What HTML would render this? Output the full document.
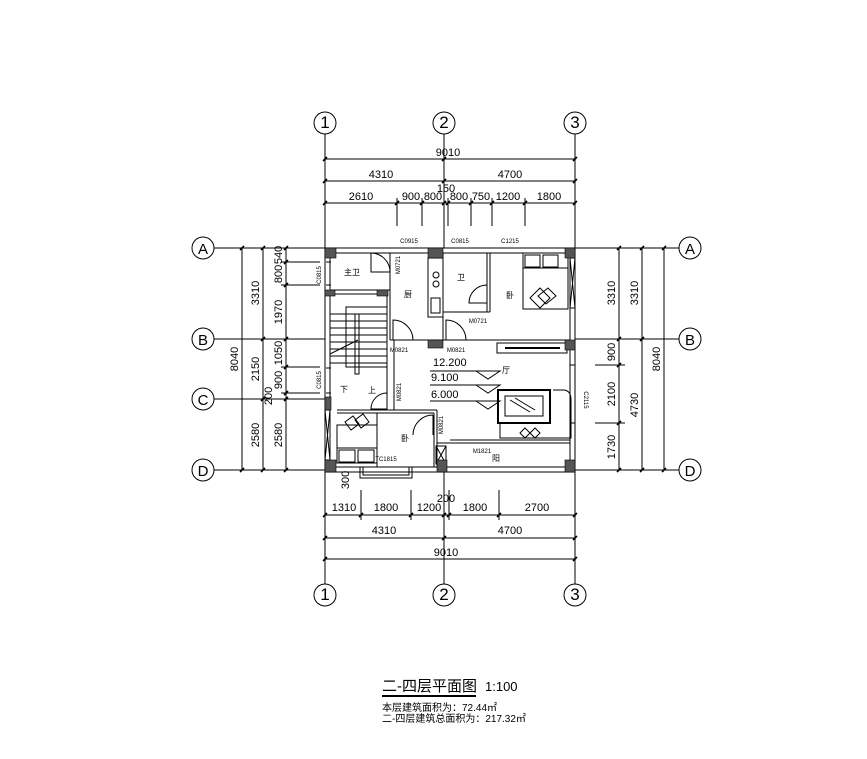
<!DOCTYPE html>
<html><head><meta charset="utf-8"><style>
html,body{margin:0;padding:0;background:#fff;}
svg{display:block;}
text{font-family:"Liberation Sans","Noto Sans CJK SC",sans-serif;fill:#000;}
</style></head><body>
<svg width="867" height="759" viewBox="0 0 867 759" xmlns="http://www.w3.org/2000/svg">
<rect width="867" height="759" fill="#fff"/>
<g stroke="#000" stroke-width="1" fill="none">
<circle cx="325" cy="123" r="11"/><circle cx="444" cy="123" r="11"/><circle cx="575" cy="123" r="11"/>
<circle cx="325" cy="595" r="11"/><circle cx="444" cy="595" r="11"/><circle cx="575" cy="595" r="11"/>
<circle cx="203" cy="248" r="11"/><circle cx="203" cy="339" r="11"/><circle cx="203" cy="399" r="11"/><circle cx="203" cy="470" r="11"/>
<circle cx="690" cy="248" r="11"/><circle cx="690" cy="339" r="11"/><circle cx="690" cy="470" r="11"/>
<line x1="325" y1="134" x2="325" y2="248"/><line x1="444" y1="134" x2="444" y2="248"/><line x1="575" y1="134" x2="575" y2="248"/>
<line x1="325" y1="472" x2="325" y2="584"/><line x1="444" y1="472" x2="444" y2="584"/><line x1="575" y1="472" x2="575" y2="584"/>
<line x1="214" y1="248" x2="325" y2="248"/><line x1="214" y1="339" x2="325" y2="339"/><line x1="214" y1="399" x2="325" y2="399"/><line x1="214" y1="470" x2="325" y2="470"/>
<line x1="575" y1="248" x2="679" y2="248"/><line x1="575" y1="339" x2="679" y2="339"/><line x1="575" y1="470" x2="679" y2="470"/>
<line x1="325" y1="159" x2="575" y2="159"/><line x1="325" y1="181" x2="575" y2="181"/><line x1="325" y1="203" x2="575" y2="203"/>
<line x1="397" y1="198" x2="397" y2="226"/><line x1="422" y1="198" x2="422" y2="226"/><line x1="448" y1="198" x2="448" y2="226"/>
<line x1="471" y1="198" x2="471" y2="226"/><line x1="492" y1="198" x2="492" y2="226"/><line x1="525" y1="198" x2="525" y2="226"/>
<line x1="325" y1="515" x2="575" y2="515"/><line x1="325" y1="538" x2="575" y2="538"/><line x1="325" y1="559" x2="575" y2="559"/>
<line x1="361" y1="490" x2="361" y2="520"/><line x1="411" y1="490" x2="411" y2="520"/><line x1="449" y1="490" x2="449" y2="520"/><line x1="499" y1="490" x2="499" y2="520"/>
<line x1="242" y1="248" x2="242" y2="470"/><line x1="263" y1="248" x2="263" y2="470"/><line x1="286" y1="248" x2="286" y2="470"/>
<line x1="281" y1="262" x2="320" y2="262"/><line x1="281" y1="285" x2="320" y2="285"/><line x1="281" y1="367" x2="320" y2="367"/><line x1="281" y1="393" x2="320" y2="393"/>
<line x1="619" y1="248" x2="619" y2="470"/><line x1="642" y1="248" x2="642" y2="470"/><line x1="664" y1="248" x2="664" y2="470"/>
<line x1="595" y1="365" x2="625" y2="365"/><line x1="595" y1="423" x2="625" y2="423"/>
</g>
<g stroke="#000" stroke-width="1.6">
<path d="M323 161l4-4M442 161l4-4M573 161l4-4M323 183l4-4M442 183l4-4M573 183l4-4M323 205l4-4M395 205l4-4M420 205l4-4M442 205l4-4M446 205l4-4M469 205l4-4M490 205l4-4M523 205l4-4M573 205l4-4"/>
<path d="M323 517l4-4M359 517l4-4M409 517l4-4M442 517l4-4M447 517l4-4M497 517l4-4M573 517l4-4M323 540l4-4M442 540l4-4M573 540l4-4M323 561l4-4M573 561l4-4"/>
<path d="M240 250l4-4M240 472l4-4M261 250l4-4M261 341l4-4M261 401l4-4M261 472l4-4M284 250l4-4M284 264l4-4M284 287l4-4M284 341l4-4M284 369l4-4M284 395l4-4M284 401l4-4M284 472l4-4"/>
<path d="M617 250l4-4M617 341l4-4M617 367l4-4M617 425l4-4M617 472l4-4M640 250l4-4M640 341l4-4M640 472l4-4M662 250l4-4M662 472l4-4"/>
</g>
<g font-size="11" text-anchor="middle">
<text x="325" y="128" font-size="17">1</text><text x="444" y="128" font-size="17">2</text><text x="575" y="128" font-size="17">3</text>
<text x="325" y="600" font-size="17">1</text><text x="444" y="600" font-size="17">2</text><text x="575" y="600" font-size="17">3</text>
<text x="203" y="254" font-size="15" font-family="Liberation Serif">A</text><text x="203" y="345" font-size="15" font-family="Liberation Serif">B</text><text x="203" y="405" font-size="15" font-family="Liberation Serif">C</text><text x="203" y="476" font-size="15" font-family="Liberation Serif">D</text>
<text x="690" y="254" font-size="15" font-family="Liberation Serif">A</text><text x="690" y="345" font-size="15" font-family="Liberation Serif">B</text><text x="690" y="476" font-size="15" font-family="Liberation Serif">D</text>
<text x="448" y="156">9010</text><text x="381" y="178">4310</text><text x="510" y="178">4700</text>
<text x="446" y="192">150</text>
<text x="361" y="200">2610</text><text x="411" y="200">900</text><text x="433" y="200">800</text><text x="459" y="200">800</text><text x="481" y="200">750</text><text x="508" y="200">1200</text><text x="549" y="200">1800</text>
<text x="344" y="511">1310</text><text x="386" y="511">1800</text><text x="429" y="511">1200</text><text x="446" y="502">200</text><text x="475" y="511">1800</text><text x="537" y="511">2700</text>
<text x="384" y="534">4310</text><text x="510" y="534">4700</text><text x="446" y="556">9010</text>
</g>
<g font-size="11" text-anchor="middle">
<text transform="translate(238,359) rotate(-90)">8040</text>
<text transform="translate(259,293) rotate(-90)">3310</text>
<text transform="translate(259,369) rotate(-90)">2150</text>
<text transform="translate(259,435) rotate(-90)">2580</text>
<text transform="translate(282,255) rotate(-90)">540</text>
<text transform="translate(282,274) rotate(-90)">800</text>
<text transform="translate(282,312) rotate(-90)">1970</text>
<text transform="translate(282,353) rotate(-90)">1050</text>
<text transform="translate(282,380) rotate(-90)">900</text>
<text transform="translate(272,396) rotate(-90)">200</text>
<text transform="translate(282,435) rotate(-90)">2580</text>
<text transform="translate(615,293) rotate(-90)">3310</text>
<text transform="translate(638,293) rotate(-90)">3310</text>
<text transform="translate(615,352) rotate(-90)">900</text>
<text transform="translate(615,394) rotate(-90)">2100</text>
<text transform="translate(638,405) rotate(-90)">4730</text>
<text transform="translate(615,447) rotate(-90)">1730</text>
<text transform="translate(660,359) rotate(-90)">8040</text>
<text transform="translate(349,480) rotate(-90)">300</text>
</g>
<g stroke="#000" stroke-width="1" fill="none">
<rect x="325" y="248" width="250" height="224"/>
<rect x="330" y="253" width="240" height="214"/>
<line x1="390" y1="253" x2="390" y2="340"/>
<line x1="443" y1="253" x2="443" y2="340"/>
<line x1="487" y1="253" x2="487" y2="312"/>
<line x1="490" y1="253" x2="490" y2="312"/>
<line x1="443" y1="312" x2="490" y2="312"/>
<line x1="330" y1="290" x2="390" y2="290"/>
<line x1="330" y1="294" x2="387" y2="294"/>
<line x1="387" y1="294" x2="387" y2="410"/>
<line x1="390" y1="340" x2="570" y2="340"/>
<line x1="394" y1="340" x2="394" y2="410"/>
<line x1="337" y1="410" x2="437" y2="410"/>
<line x1="337" y1="413" x2="434" y2="413"/>
<line x1="437" y1="410" x2="437" y2="467"/>
<line x1="434" y1="413" x2="434" y2="467"/>
<line x1="377" y1="413" x2="377" y2="467"/>
<line x1="437" y1="443" x2="570" y2="443"/>
<line x1="450" y1="440" x2="570" y2="440"/>
<rect x="436" y="446" width="10" height="18"/>
<path d="M436 446l10 18M446 446l-10 18"/>
<rect x="346" y="307" width="41" height="60"/>
<path d="M330 314h57M330 321h57M330 328h57M330 335h57M330 342h57M330 349h57M330 356h57M330 363h57"/>
<rect x="355" y="314" width="4" height="60"/>
<path d="M330 354l28-14"/>
<rect x="428" y="258" width="15" height="59"/>
<circle cx="436" cy="275" r="3"/><circle cx="436" cy="284" r="3"/><rect x="431" y="298" width="9" height="15"/>
<rect x="523" y="253" width="45" height="56"/>
<rect x="525" y="255" width="15" height="12"/><rect x="543" y="255" width="15" height="12"/>
<path d="M523 268h45M530 298l10-10l10 10l-10 10zM538 296l10-8l8 8l-10 8z"/>
<rect x="337" y="425" width="40" height="38"/>
<rect x="339" y="450" width="16" height="12"/><rect x="358" y="450" width="16" height="12"/>
<path d="M337 448h40M355 420l8-6l6 8l-8 6zM345 422l8-6l6 8l-8 6z"/>
<rect x="497" y="343" width="70" height="10"/>
<line x1="505" y1="348" x2="560" y2="348" stroke-width="2"/>
<rect x="498" y="390" width="52" height="33" stroke-width="2"/>
<rect x="505" y="396" width="38" height="20"/>
<path d="M510 400l20 12M515 398l20 12"/>
<path d="M553 390h10q8 0 8 10v38h-71v-15"/>
<path d="M525 428l5 5l-5 5l-5-5zM535 428l5 5l-5 5l-5-5z"/>
<path d="M360 467v11h52v-11M363 467v8h46v-8"/>
<path d="M371 253a19 19 0 0 1 19 19h-19z"/>
<path d="M393 320a20 20 0 0 1 20 20h-20z"/>
<path d="M446 320a20 20 0 0 1 20 20h-20z"/>
<path d="M487 285a18 18 0 0 0 -18 18h18z"/>
<path d="M387 393a16 16 0 0 0 -16 16h16z"/>
<path d="M433 415a20 20 0 0 0 -20 20"/><line x1="433" y1="415" x2="433" y2="435"/>
<path d="M331 262h-5M331 285h-5M331 368h-5M331 393h-5M570 365h5M570 423h5"/>
<rect x="325" y="410" width="5" height="50"/><path d="M325 410l5 50M330 410l-5 50"/>
<rect x="570" y="258" width="5" height="50"/><path d="M570 258l5 50M575 258l-5 50"/>
<path d="M430 371h70l-12 8l-12-8M430 385h70l-12 8l-12-8M430 401h70l-12 8l-12-8"/>
</g>
<g fill="#555" stroke="#000" stroke-width="0.6">
<rect x="325" y="248" width="11" height="10"/><rect x="428" y="248" width="15" height="10"/><rect x="565" y="248" width="10" height="10"/>
<rect x="325" y="290" width="10" height="6"/><rect x="377" y="290" width="11" height="6"/>
<rect x="428" y="340" width="15" height="8"/><rect x="565" y="340" width="10" height="10"/>
<rect x="325" y="397" width="6" height="13"/>
<rect x="325" y="460" width="11" height="12"/><rect x="437" y="460" width="10" height="12"/><rect x="565" y="460" width="10" height="12"/>
</g>
<g font-size="6" text-anchor="middle">
<text x="409" y="243">C0915</text><text x="460" y="243">C0815</text><text x="510" y="243">C1215</text>
<text transform="translate(321,275) rotate(-90)">C0815</text>
<text transform="translate(321,380) rotate(-90)">C0815</text>
<text transform="translate(584,400) rotate(90)">C2115</text>
<text transform="translate(400,265) rotate(-90)">M0721</text>
<text x="478" y="323">M0721</text>
<text x="399" y="352">M0821</text><text x="456" y="352">M0821</text>
<text transform="translate(401,392) rotate(-90)">M0821</text>
<text transform="translate(443,425) rotate(-90)">M0821</text>
<text x="482" y="453">M1821</text>
<text x="386" y="461">TC1815</text>
</g>
<g font-size="8" text-anchor="middle">
<text x="352" y="275">主卫</text><text x="408" y="297">厨</text><text x="461" y="280">卫</text><text x="510" y="298">卧</text>
<text x="506" y="373">厅</text><text x="405" y="441">卧</text><text x="496" y="461">阳</text>
<text x="344" y="392">下</text><text x="372" y="393">上</text>
</g>
<g font-size="11">
<text x="433" y="366">12.200</text><text x="431" y="381">9.100</text><text x="431" y="398">6.000</text>
</g>
<text x="382" y="691" font-size="15">二-四层平面图</text>
<text x="485" y="691" font-size="13">1:100</text>
<line x1="382" y1="696" x2="476" y2="696" stroke="#000" stroke-width="2"/>
<text x="382" y="711" font-size="10" font-family="Liberation Serif,Noto Serif CJK SC,serif">本层建筑面积为：72.44㎡</text>
<text x="382" y="722" font-size="10" font-family="Liberation Serif,Noto Serif CJK SC,serif">二-四层建筑总面积为：217.32㎡</text>
</svg>
</body></html>
